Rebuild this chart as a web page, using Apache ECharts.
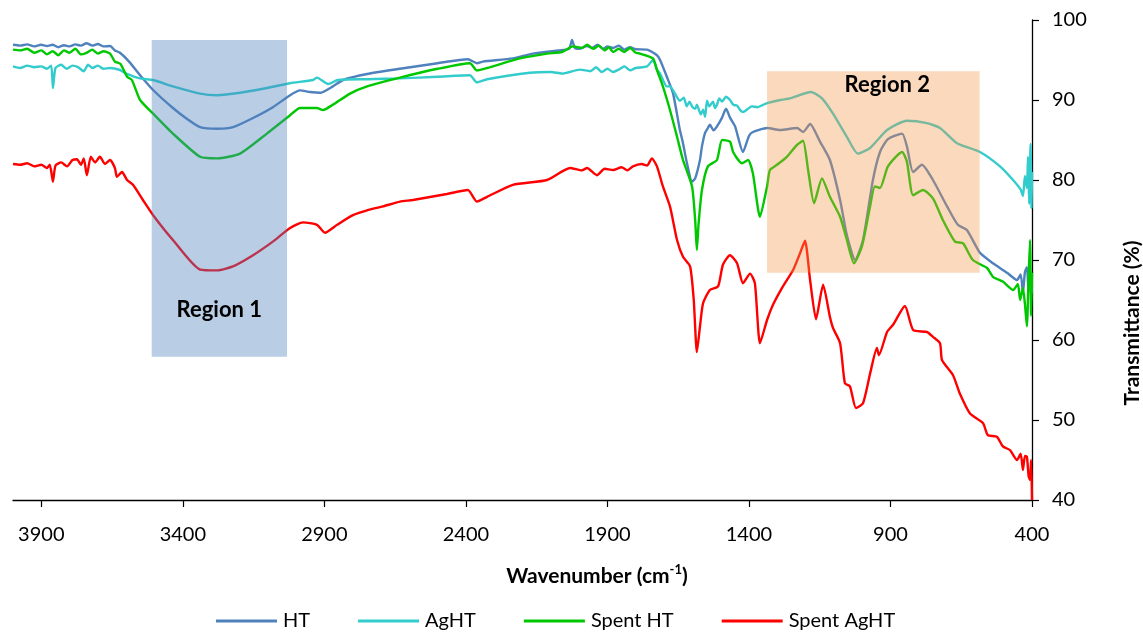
<!DOCTYPE html>
<html>
<head>
<meta charset="utf-8">
<script src="https://cdn.jsdelivr.net/npm/echarts@6/dist/echarts.min.js"></script>
<style>
html,body{margin:0;padding:0;background:#fff;}
#chart{width:1143px;height:632px;}
</style>
</head>
<body>
<div id="chart"></div>
<script>
// ---- data (wavenumber cm-1, transmittance %) ----
const wavenumberTicks = [3900, 3400, 2900, 2400, 1900, 1400, 900, 400];
const seriesNames = ['HT', 'AgHT', 'Spent HT', 'Spent AgHT'];

const htData = [[4000,96.9],[3975,96.8],[3950,96.95],[3925,96.7],[3901,96.9],[3880,96.75],[3860,96.9],[3840,96.6],[3820,96.85],[3800,96.7],[3780,96.95],[3760,96.8],[3740,97.1],[3720,96.8],[3700,97.0],[3680,96.7],[3657,96.75],[3640,96.2],[3622,95.9],[3590,94.8],[3551,93.1],[3505,91.25],[3435,89.0],[3380,87.5],[3339,86.6],[3279,86.4],[3223,86.6],[3152,87.75],[3082,89.1],[3021,90.6],[2986,91.2],[2951,91.0],[2915,90.9],[2870,91.7],[2834,92.5],[2749,93.25],[2633,93.9],[2500,94.6],[2393,95.1],[2361,94.6],[2340,94.8],[2234,95.2],[2163,95.8],[2057,96.25],[2035,96.4],[2025,97.5],[2015,96.5],[2000,96.4],[1972,96.75],[1955,96.5],[1935,96.9],[1915,96.4],[1900,96.7],[1880,96.5],[1860,96.8],[1840,96.3],[1820,96.6],[1800,96.35],[1760,96.3],[1725,95.6],[1714,95.0],[1690,92.9],[1668,90.8],[1644,86.25],[1633,84.6],[1619,82.1],[1601,79.8],[1590,80.2],[1573,82.5],[1566,84.2],[1555,85.9],[1545,86.5],[1538,86.9],[1525,86.2],[1513,86.7],[1495,87.8],[1481,88.9],[1467,87.8],[1449,86.7],[1421,83.5],[1400,85.5],[1386,86.0],[1336,86.5],[1290,86.25],[1230,86.5],[1209,86.0],[1184,87.0],[1149,84.8],[1114,82.5],[1078,77.5],[1054,73.1],[1025,70.0],[997,72.5],[962,80.0],[937,83.5],[909,85.1],[859,85.8],[842,84.2],[820,81.0],[789,81.9],[750,80.0],[700,76.7],[662,74.4],[630,73.75],[584,70.9],[538,69.6],[488,68.4],[453,67.5],[440,68.2],[432,65.9],[425,68.5],[418,69.1],[412,66.0],[407,68.8],[400,65.9]];

const aghtData = [[4000,94.2],[3975,94.0],[3950,94.3],[3925,94.1],[3900,94.2],[3880,93.9],[3865,94.3],[3859,91.5],[3850,94.0],[3830,94.4],[3810,93.9],[3790,94.3],[3770,94.1],[3750,93.6],[3735,94.4],[3720,94.0],[3700,94.3],[3680,93.9],[3657,94.0],[3622,93.75],[3600,93.3],[3551,92.7],[3505,92.5],[3435,91.7],[3339,90.8],[3279,90.6],[3198,90.9],[3103,91.5],[3021,92.1],[2940,92.5],[2926,92.8],[2887,92.0],[2852,92.5],[2749,92.6],[2633,92.7],[2500,92.9],[2386,93.1],[2361,92.2],[2325,92.6],[2174,93.4],[2100,93.5],[2060,93.3],[1997,93.8],[1960,93.6],[1940,94.1],[1920,93.5],[1900,93.9],[1880,93.5],[1860,93.8],[1840,94.2],[1820,93.7],[1800,94.0],[1760,94.2],[1739,95.0],[1725,93.8],[1714,93.3],[1690,91.7],[1679,91.7],[1644,89.9],[1630,90.3],[1620,89.2],[1610,89.8],[1601,89.2],[1590,88.9],[1584,89.4],[1570,88.2],[1562,88.8],[1555,87.9],[1548,89.9],[1540,89.2],[1527,89.8],[1520,89.0],[1513,89.4],[1505,90.2],[1495,89.8],[1481,90.4],[1467,90.0],[1455,89.4],[1442,89.3],[1430,88.7],[1421,88.5],[1407,88.8],[1390,89.2],[1370,89.1],[1350,89.4],[1336,89.6],[1290,90.0],[1255,90.2],[1181,91.0],[1142,90.2],[1103,88.3],[1054,85.4],[1015,83.3],[972,84.0],[912,86.25],[842,87.4],[771,87.1],[725,86.5],[665,84.6],[584,83.5],[513,81.7],[467,80.0],[440,78.8],[432,78.0],[425,80.5],[418,79.0],[414,82.9],[410,77.0],[405,84.5],[402,76.5],[400,81.0]];

const spentHtData = [[4000,96.3],[3975,96.2],[3950,96.4],[3925,95.9],[3900,96.2],[3880,95.7],[3860,96.1],[3840,95.6],[3820,96.2],[3800,95.9],[3780,96.4],[3760,95.7],[3740,95.9],[3720,96.3],[3700,95.8],[3680,96.1],[3657,95.8],[3640,94.8],[3620,94.5],[3597,92.9],[3580,92.5],[3551,90.0],[3505,88.3],[3435,85.8],[3339,82.9],[3279,82.7],[3198,83.3],[3103,85.8],[3021,88.1],[2986,89.0],[2926,89.0],[2905,88.75],[2870,89.4],[2809,90.8],[2749,91.7],[2633,92.8],[2500,93.9],[2386,94.6],[2361,93.7],[2325,94.0],[2209,95.2],[2113,95.8],[2060,96.0],[2022,96.7],[1990,96.5],[1972,96.9],[1950,96.4],[1930,96.8],[1910,96.2],[1895,96.6],[1880,96.0],[1860,96.4],[1840,96.0],[1820,96.5],[1800,95.9],[1785,95.8],[1739,95.2],[1725,93.75],[1704,91.7],[1679,88.75],[1654,85.4],[1633,82.5],[1601,79.2],[1590,75.0],[1584,71.25],[1578,74.5],[1566,78.75],[1545,81.7],[1513,82.5],[1495,85.0],[1467,84.8],[1456,83.5],[1425,82.1],[1403,82.5],[1386,80.8],[1361,75.4],[1336,79.2],[1326,81.25],[1301,81.9],[1266,82.9],[1230,84.4],[1209,84.9],[1191,81.25],[1170,77.1],[1142,80.2],[1114,77.9],[1078,75.4],[1054,72.5],[1029,69.6],[1001,71.7],[972,76.7],[955,79.2],[937,79.0],[909,81.7],[859,83.5],[842,82.3],[820,78.1],[785,78.75],[750,77.7],[715,75.0],[672,72.3],[644,72.1],[609,70.0],[559,69.0],[538,67.9],[503,67.3],[467,66.25],[450,67.0],[442,65.0],[432,66.5],[425,64.5],[418,61.7],[412,68.0],[407,72.5],[403,63.0],[400,68.4]];

const spentAghtData = [[4000,82.0],[3975,81.9],[3950,82.1],[3925,81.7],[3900,81.9],[3880,81.5],[3870,81.9],[3859,79.8],[3850,81.8],[3830,82.2],[3809,81.7],[3790,82.5],[3774,82.6],[3760,81.9],[3750,82.7],[3739,80.6],[3725,82.9],[3710,82.2],[3693,82.9],[3675,82.0],[3657,82.5],[3640,81.5],[3633,80.4],[3615,81.0],[3597,80.0],[3576,79.4],[3541,77.5],[3505,75.6],[3435,72.5],[3339,68.8],[3279,68.7],[3223,69.2],[3152,70.6],[3082,72.3],[3021,74.0],[2975,74.7],[2926,74.4],[2898,73.4],[2855,74.4],[2799,75.6],[2749,76.2],[2693,76.7],[2633,77.3],[2587,77.5],[2467,78.25],[2393,78.75],[2361,77.3],[2325,77.9],[2234,79.4],[2113,80.0],[2032,81.5],[1990,81.2],[1972,81.5],[1937,80.6],[1910,81.4],[1880,81.25],[1850,81.6],[1830,81.2],[1810,81.7],[1780,82.0],[1760,81.8],[1743,82.7],[1725,81.7],[1704,79.2],[1679,76.7],[1654,72.5],[1633,70.4],[1608,69.2],[1595,65.0],[1584,58.5],[1572,62.0],[1562,64.6],[1538,66.25],[1509,66.7],[1492,69.4],[1467,70.6],[1442,69.6],[1421,67.1],[1396,68.3],[1379,67.1],[1361,59.6],[1336,62.5],[1315,64.4],[1280,66.7],[1244,68.75],[1220,70.8],[1202,72.4],[1184,67.5],[1163,62.6],[1138,66.9],[1114,62.9],[1103,61.5],[1078,59.6],[1061,54.6],[1043,54.2],[1022,51.5],[997,52.1],[972,55.8],[948,59.0],[941,58.1],[912,61.0],[891,61.9],[849,64.25],[820,61.25],[771,61.0],[750,60.4],[725,59.6],[718,57.5],[679,55.6],[655,53.3],[619,50.8],[573,49.6],[556,48.1],[524,47.9],[503,46.7],[478,46.25],[453,45.0],[440,45.8],[432,43.75],[425,45.5],[418,45.4],[412,43.0],[407,42.5],[403,45.0],[400,40.0]];

// shaded regions: [wavenumber start, wavenumber end, transmittance low, transmittance high]
const region1 = [3510, 3032, 57.9, 97.5];
const region2 = [1336, 585, 68.4, 93.6];

const colors = ['#4F81BD', '#33CCCC', '#00C800', '#FF0000'];
const FONT = 'Lato, "Open Sans", sans-serif';

const chart = echarts.init(document.getElementById('chart'), null, {renderer: 'canvas'});

function lineSeries(name, data, color, z) {
  return {
    name: name, type: 'line', data: data, color: color,
    showSymbol: false, symbol: 'none', smooth: 0.2, z: z,
    lineStyle: {color: color, width: 2.4}, animation: false
  };
}

const allSeries = [
  lineSeries(seriesNames[0], htData, colors[0], 2),
  lineSeries(seriesNames[1], aghtData, colors[1], 3),
  lineSeries(seriesNames[2], spentHtData, colors[2], 4),
  lineSeries(seriesNames[3], spentAghtData, colors[3], 5)
];
allSeries[3].markArea = {
  silent: true,
  z: 20,
  data: [
    [{xAxis: region1[0], yAxis: region1[3], itemStyle: {color: 'rgba(79,129,189,0.4)'},
      label: {show: true, position: 'insideBottom', distance: 36, formatter: 'Region 1',
              fontFamily: FONT, fontWeight: 'bold', fontSize: 22, color: '#000'}},
     {xAxis: region1[1], yAxis: region1[2]}],
    [{xAxis: region2[0], yAxis: region2[3], itemStyle: {color: 'rgba(244,150,72,0.36)'},
      label: {show: true, position: 'insideTop', distance: 3, offset: [14, 0], formatter: 'Region 2',
              fontFamily: FONT, fontWeight: 'bold', fontSize: 22, color: '#000'}},
     {xAxis: region2[1], yAxis: region2[2]}]
  ]
};

chart.setOption({
  animation: false,
  backgroundColor: '#fff',
  textStyle: {fontFamily: FONT},
  grid: {left: 13, right: 111, top: 20, bottom: 132, containLabel: false, outerBoundsMode: 'none'},
  legend: {
    data: seriesNames,
    left: 211, top: 606,
    icon: 'rect', itemWidth: 61, itemHeight: 3, itemGap: 48,
    textStyle: {fontFamily: FONT, fontSize: 20, color: '#000', padding: [0, 0, 0, 1]}
  },
  xAxis: {
    type: 'value', min: 400, max: 4000, interval: 500, inverse: true,
    axisLine: {show: true, onZero: false, lineStyle: {color: '#000', width: 1.3}},
    axisTick: {show: true, length: 7, inside: false, customValues: wavenumberTicks, lineStyle: {color: '#000', width: 1.2}},
    axisLabel: {customValues: wavenumberTicks, margin: 25, fontFamily: FONT, fontSize: 20, color: '#000',
                formatter: function (v) { return String(v); }},
    splitLine: {show: false}
  },
  yAxis: {
    type: 'value', min: 40, max: 100, interval: 10, position: 'right',
    axisLine: {show: true, onZero: false, lineStyle: {color: '#000', width: 1.3}},
    axisTick: {show: true, length: 7, inside: false, lineStyle: {color: '#000', width: 1.2}},
    axisLabel: {margin: 20, fontFamily: FONT, fontSize: 20, color: '#000'},
    splitLine: {show: false}
  },
  graphic: [
    {type: 'text', x: 597, y: 576, z: 50,
     style: {text: '{a|Wavenumber (cm}{s|-1}{a|)}', align: 'center', verticalAlign: 'middle',
             rich: {a: {fontFamily: FONT, fontWeight: 'bold', fontSize: 21, color: '#000', lineHeight: 26},
                    s: {fontFamily: FONT, fontWeight: 'bold', fontSize: 13, color: '#000', lineHeight: 26, verticalAlign: 'top', padding: [0, 0, 8, 0]}}}},
    {type: 'text', x: 1132, y: 323, rotation: Math.PI / 2, z: 50,
     style: {text: '{a|Transmittance (%)}', align: 'center', verticalAlign: 'middle',
             rich: {a: {fontFamily: FONT, fontWeight: 'bold', fontSize: 21, color: '#000', lineHeight: 26}}}}
  ],
  series: allSeries
});
</script>
</body>
</html>
